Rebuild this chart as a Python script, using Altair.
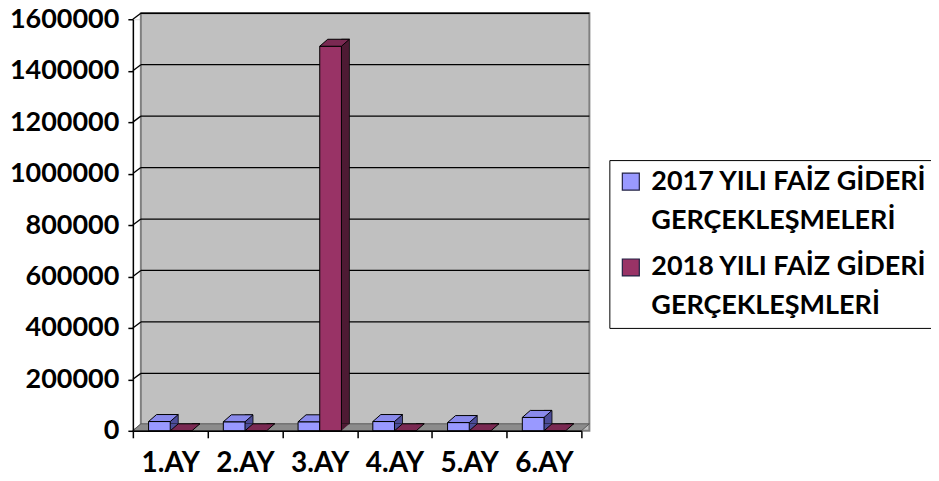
import altair as alt
import pandas as pd

months = ["1.AY", "2.AY", "3.AY", "4.AY", "5.AY", "6.AY"]
series = ["2017 YILI FAİZ GİDERİ GERÇEKLEŞMELERİ", "2018 YILI FAİZ GİDERİ GERÇEKLEŞMLERİ"]
v2017 = [36000, 35000, 35000, 36000, 32000, 52000]
v2018 = [0, 0, 1495000, 0, 0, 0]
y_ticks = [0, 200000, 400000, 600000, 800000, 1000000, 1200000, 1400000, 1600000]

front_colors = ["#9999FF", "#993366"]
side_colors = ["#4D4D99", "#4D1A33"]
top_colors = ["#8A8AEB", "#7A2952"]

rows = []
for m, a, b in zip(months, v2017, v2018):
    rows.append({"month": m, "series": series[0], "value": a})
    rows.append({"month": m, "series": series[1], "value": b})
df = pd.DataFrame(rows)
grid_df = pd.DataFrame({"tick": y_ticks})
one = pd.DataFrame({"a": [0]})

W, H = 449, 412
BW = 21.7
HB = BW / 2
DX, DY = 8, 7
FONT = "Lato"

yscale = alt.Scale(domain=[0, 1600000], nice=False, zero=True)
xscale = alt.Scale(domain=months, paddingInner=0, paddingOuter=0)

x_axis = alt.Axis(title=None, labelAngle=0, labelFont=FONT, labelFontWeight="bold",
                  labelFontSize=28, labelColor="black", labelPadding=12,
                  domainColor="black", domainWidth=1.5, tickColor="black", tickWidth=1.5,
                  tickSize=7, tickBand="extent", zindex=1)
y_axis = alt.Axis(title=None, values=y_ticks, format="d", labelFont=FONT, labelFontWeight="bold",
                  labelFontSize=27, labelColor="black", labelPadding=9, grid=False,
                  domainColor="black", domainWidth=1.5, tickColor="black", tickWidth=1.5,
                  tickSize=5, zindex=1)

X = alt.X("month:N", sort=months, scale=xscale, axis=x_axis)

wall = alt.Chart(one).mark_rect(fill="#C0C0C0", stroke="#808080", strokeWidth=2).encode(
    x=alt.value(DX), x2=alt.value(W + DX), y=alt.value(-6), y2=alt.value(H))

grid = alt.Chart(grid_df).transform_filter("datum.tick > 0").mark_rule(
    color="black", strokeWidth=1.3, yOffset=-6).encode(
    y=alt.Y("tick:Q", scale=yscale, axis=y_axis), x=alt.value(DX), x2=alt.value(W + DX))

conn = alt.Chart(grid_df).mark_point(shape=f"M0,0L{DX},-6", size=4, filled=False,
                                     stroke="black", strokeWidth=1.3, opacity=1).encode(
    y=alt.Y("tick:Q", scale=yscale, axis=y_axis), x=alt.value(0))

floor = alt.Chart(one).mark_point(
    shape=f"M0,0L{W},0L{W + DX},{-DY}L{DX},{-DY}Z", size=4, filled=True,
    fill="#8C8C8C", stroke="#5A5A5A", strokeWidth=1, opacity=1).encode(
    x=alt.value(0), y=alt.value(H))

legend = alt.Legend(
    title=None, orient="none", legendX=477, legendY=141, direction="vertical",
    labelFont=FONT, labelFontWeight="bold", labelFontSize=27, labelColor="black",
    labelExpr="[slice(datum.label, 0, 21), slice(datum.label, 22)]",
    labelLimit=500, labelOffset=7, labelBaseline="middle",
    symbolType="M-1,-1H1V1H-1Z", symbolSize=289, symbolStrokeColor="#222244",
    symbolStrokeWidth=1.2, symbolOpacity=1,
    strokeColor="black", fillColor="white", padding=8, rowPadding=19)

layers = [wall, grid, conn, floor]
for i, s in enumerate(series):
    off = -HB if i == 0 else HB
    base = alt.Chart(df).transform_filter(alt.datum.series == s)
    side = base.mark_bar(width=DX, xOffset=off + HB + DX / 2, yOffset=-DY, y2Offset=-DY,
                         color=side_colors[i], stroke="black", strokeWidth=0.8).encode(
        x=X, y=alt.Y("value:Q", scale=yscale, axis=y_axis))
    tri = base.transform_filter("datum.value > 0").mark_point(
        shape=f"M{HB},0L{HB + DX},{-DY}L{HB},{-DY}Z", size=4, filled=True,
        fill=side_colors[i], strokeWidth=0, opacity=1, xOffset=off).encode(
        x=X, y=alt.value(H))
    front = base.mark_bar(width=BW, xOffset=off, stroke="black", strokeWidth=1).encode(
        x=X, y=alt.Y("value:Q", scale=yscale, axis=y_axis),
        color=alt.Color("series:N", scale=alt.Scale(domain=series, range=front_colors),
                        legend=legend))
    top = base.mark_point(
        shape=f"M{-HB},0L{HB},0L{HB + DX},{-DY}L{-HB + DX},{-DY}Z", size=4, filled=True,
        fill=top_colors[i], stroke="black", strokeWidth=1, opacity=1, xOffset=off).encode(
        x=X, y=alt.Y("value:Q", scale=yscale, axis=y_axis))
    layers += [side, tri, front, top]

chart = alt.layer(*layers).properties(
    width=W, height=H,
    autosize=alt.AutoSizeParams(type="none"),
    padding={"left": 125, "top": 11, "right": 350, "bottom": 50},
).configure_view(stroke=None).configure_legend(strokeWidth=1.5).configure(
    style={"guide-label": {"lineHeight": 39}})

chart.save("out.html", embed_options={"renderer": "svg", "actions": False})
